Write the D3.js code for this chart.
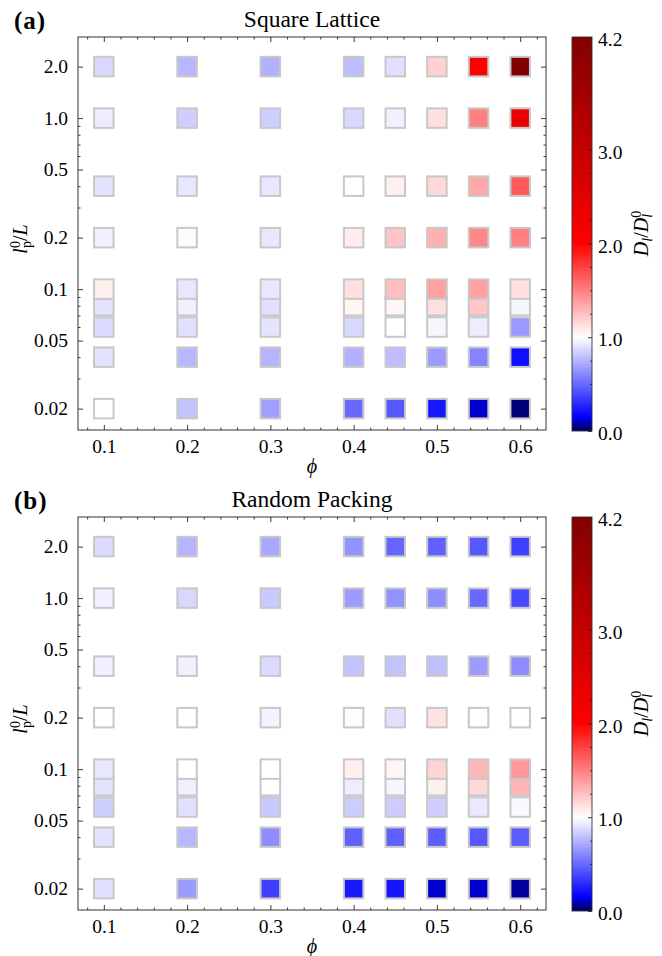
<!DOCTYPE html>
<html>
<head>
<meta charset="utf-8">
<script src="https://cdn.jsdelivr.net/npm/d3@7"></script>
<style>
  body { margin: 0; background: #fff; }
  text { font-family: "Liberation Serif", "Times New Roman", serif; fill: #000; }
</style>
</head>
<body>
<svg id="fig" width="662" height="956"></svg>
<script>
// Packing fractions (x) and persistence lengths l_p^0 / L (y)
const phiValues = [0.1, 0.2, 0.3, 0.4, 0.45, 0.5, 0.55, 0.6];
const lpValues  = [0.02, 0.04, 0.06, 0.08, 0.1, 0.2, 0.4, 1.0, 2.0];

// D_l / D_l^0 : one row per lpValues entry, one column per phiValues entry
const squareLattice = [
  [1.00, 0.80, 0.68, 0.50, 0.44, 0.23, 0.107, 0.038],
  [0.91, 0.76, 0.75, 0.74, 0.78, 0.67, 0.59, 0.20],
  [0.88, 0.90, 0.91, 0.87, 1.00, 0.97, 0.94, 0.66],
  [0.91, 0.95, 0.90, 1.04, 1.04, 1.12, 1.22, 0.97],
  [1.06, 0.92, 0.92, 1.12, 1.25, 1.37, 1.37, 1.12],
  [0.95, 0.99, 0.92, 1.07, 1.23, 1.31, 1.47, 1.50],
  [0.91, 0.92, 0.92, 1.00, 1.06, 1.15, 1.34, 1.65],
  [0.94, 0.84, 0.84, 0.87, 0.95, 1.12, 1.50, 2.36],
  [0.87, 0.76, 0.74, 0.78, 0.90, 1.18, 2.00, 4.20]
];
const randomPacking = [
  [0.90, 0.67, 0.36, 0.23, 0.22, 0.107, 0.107, 0.067],
  [0.91, 0.76, 0.62, 0.47, 0.47, 0.46, 0.44, 0.46],
  [0.84, 0.90, 0.82, 0.83, 0.83, 0.84, 0.93, 0.98],
  [0.91, 0.95, 1.00, 0.94, 0.97, 1.06, 1.15, 1.29],
  [0.92, 1.00, 1.00, 1.06, 1.04, 1.17, 1.28, 1.40],
  [1.00, 1.00, 0.96, 1.01, 0.90, 1.11, 1.00, 1.00],
  [0.95, 0.95, 0.88, 0.80, 0.80, 0.79, 0.67, 0.62],
  [0.95, 0.87, 0.82, 0.67, 0.64, 0.62, 0.50, 0.39],
  [0.88, 0.75, 0.71, 0.64, 0.49, 0.47, 0.44, 0.36]
];

const panelTitles = ["Square Lattice", "Random Packing"];
const panelTags   = ["(a)", "(b)"];

const xTicks      = [0.1, 0.2, 0.3, 0.4, 0.5, 0.6];
const xTickLabels = ["0.1", "0.2", "0.3", "0.4", "0.5", "0.6"];
const xMinorTicks = [0.08, 0.12, 0.14, 0.16, 0.18, 0.22, 0.24, 0.26, 0.28, 0.32, 0.34, 0.36, 0.38,
                     0.42, 0.44, 0.46, 0.48, 0.52, 0.54, 0.56, 0.58, 0.62];
const yTicks      = [0.02, 0.05, 0.1, 0.2, 0.5, 1.0, 2.0];
const yTickLabels = ["0.02", "0.05", "0.1", "0.2", "0.5", "1.0", "2.0"];
const yMinorTicks = [0.03, 0.04, 0.06, 0.07, 0.08, 0.09, 0.3, 0.4, 0.6, 0.7, 0.8, 0.9];

const cbarTicks      = [0, 1, 2, 3, 4.2];
const cbarTickLabels = ["0.0", "1.0", "2.0", "3.0", "4.2"];
const cbarMinorTicks = [0.25, 0.5, 0.75, 1.25, 1.5, 1.75, 2.25, 2.5, 2.75, 3.25, 3.5, 3.75, 4.0];

// diverging colormap: navy -> blue -> white (at 1) -> red -> dark red
const cmapStops  = [0, 0.15, 1, 2, 4.2];
const cmapColors = ["#00004d", "#0000ff", "#ffffff", "#ff0000", "#800000"];

const color = d3.scaleLinear().domain(cmapStops).range(cmapColors)
  .interpolate(d3.interpolateRgb).clamp(true);

const svg = d3.select("#fig");
const defs = svg.append("defs");
const grad = defs.append("linearGradient").attr("id", "cmap")
  .attr("x1", 0).attr("y1", 1).attr("x2", 0).attr("y2", 0);
cmapStops.forEach((s, i) => {
  grad.append("stop").attr("offset", s / 4.2).attr("stop-color", cmapColors[i]);
});

const M = { left: 78, right: 546, top: 37, bottom: 430 };
const panelOffset = 480;
const x = d3.scaleLinear().domain([0.069, 0.631]).range([M.left, M.right]);
const tickColor = "#222";
const tickFont = "19.5px";

function styleAxis(g) {
  g.select(".domain").remove();
  g.selectAll(".tick line").attr("stroke", tickColor).attr("stroke-width", 0.9);
  g.selectAll("text").style("font-size", tickFont).style("font-family", "Liberation Serif, serif");
}

function drawPanel(p, data) {
  const oy = p * panelOffset;
  const g = svg.append("g").attr("transform", `translate(0,${oy})`);
  const y = d3.scaleLog().domain([0.015, 2.98]).range([M.bottom, M.top]);

  // squares
  lpValues.forEach((lp, i) => {
    phiValues.forEach((phi, j) => {
      const s = 19.5;
      g.append("rect")
        .attr("x", x(phi) - s / 2).attr("y", y(lp) - s / 2)
        .attr("width", s).attr("height", s)
        .attr("fill", color(data[i][j]))
        .attr("stroke", "#c8c8c8").attr("stroke-width", 2);
    });
  });

  // axes (ticks point inward on all four sides)
  const H = M.bottom, T = M.top;
  g.append("g").attr("transform", `translate(0,${H})`)
    .call(d3.axisBottom(x).tickValues(xTicks).tickFormat((d, i) => xTickLabels[i])
      .tickSizeInner(-5).tickSizeOuter(0).tickPadding(9)).call(styleAxis);
  g.append("g").attr("transform", `translate(0,${H})`)
    .call(d3.axisBottom(x).tickValues(xMinorTicks).tickFormat("")
      .tickSizeInner(-2.5).tickSizeOuter(0)).call(styleAxis);
  g.append("g").attr("transform", `translate(0,${T})`)
    .call(d3.axisTop(x).tickValues(xTicks).tickFormat("")
      .tickSizeInner(-5).tickSizeOuter(0)).call(styleAxis);
  g.append("g").attr("transform", `translate(0,${T})`)
    .call(d3.axisTop(x).tickValues(xMinorTicks).tickFormat("")
      .tickSizeInner(-2.5).tickSizeOuter(0)).call(styleAxis);

  g.append("g").attr("transform", `translate(${M.left},0)`)
    .call(d3.axisLeft(y).tickValues(yTicks).tickFormat((d, i) => yTickLabels[i])
      .tickSizeInner(-5).tickSizeOuter(0).tickPadding(10)).call(styleAxis);
  g.append("g").attr("transform", `translate(${M.left},0)`)
    .call(d3.axisLeft(y).tickValues(yMinorTicks).tickFormat("")
      .tickSizeInner(-2.5).tickSizeOuter(0)).call(styleAxis);
  g.append("g").attr("transform", `translate(${M.right},0)`)
    .call(d3.axisRight(y).tickValues(yTicks).tickFormat("")
      .tickSizeInner(-5).tickSizeOuter(0)).call(styleAxis);
  g.append("g").attr("transform", `translate(${M.right},0)`)
    .call(d3.axisRight(y).tickValues(yMinorTicks).tickFormat("")
      .tickSizeInner(-2.5).tickSizeOuter(0)).call(styleAxis);

  g.append("rect").attr("x", M.left).attr("y", M.top)
    .attr("width", M.right - M.left).attr("height", M.bottom - M.top)
    .attr("fill", "none").attr("stroke", "#333").attr("stroke-width", 1);

  // title and panel tag
  g.append("text").attr("x", (M.left + M.right) / 2).attr("y", 27)
    .attr("text-anchor", "middle").style("font-size", "23.5px").text(panelTitles[p]);
  g.append("text").attr("x", 14).attr("y", 29)
    .style("font-size", "25px").style("font-weight", "bold").style("letter-spacing", "1px")
    .text(panelTags[p]);

  // x label
  g.append("text").attr("x", (M.left + M.right) / 2).attr("y", 473)
    .attr("text-anchor", "middle").style("font-size", "20px").style("font-style", "italic")
    .text("\u03d5");

  // y label: l_p^0 / L
  const yl = g.append("text").attr("transform", `translate(27,239) rotate(-90)`)
    .attr("text-anchor", "middle").style("font-size", "20px");
  yl.append("tspan").style("font-style", "italic").text("l");
  yl.append("tspan").attr("dy", -7).style("font-size", "14px").text("0");
  yl.append("tspan").attr("dx", -7).attr("dy", 11).style("font-size", "14px").text("p");
  yl.append("tspan").attr("dy", -4).text("/");
  yl.append("tspan").style("font-style", "italic").text("L");

  // colorbar
  const cb = d3.scaleLinear().domain([0, 4.2]).range([431, 37]);
  const cx0 = 572, cw = 20;
  g.append("rect").attr("x", cx0).attr("y", cb(4.2)).attr("width", cw)
    .attr("height", cb(0) - cb(4.2)).attr("fill", "url(#cmap)");
  const cg = g.append("g").attr("transform", `translate(${cx0 + cw},0)`);
  cg.call(d3.axisRight(cb).tickValues(cbarTicks).tickFormat((d, i) => cbarTickLabels[i])
    .tickSizeInner(-4).tickSizeOuter(0).tickPadding(6)).call(styleAxis);
  cg.selectAll("text").attr("dy", "0.45em");
  g.append("g").attr("transform", `translate(${cx0 + cw},0)`)
    .call(d3.axisRight(cb).tickValues(cbarMinorTicks).tickFormat("")
      .tickSizeInner(-2).tickSizeOuter(0)).call(styleAxis);
  g.append("rect").attr("x", cx0).attr("y", cb(4.2)).attr("width", cw)
    .attr("height", cb(0) - cb(4.2)).attr("fill", "none")
    .attr("stroke", "#333").attr("stroke-width", 0.9);

  // colorbar label: D_l / D_l^0
  const cl = g.append("text").attr("transform", `translate(648,${(M.top + M.bottom) / 2}) rotate(-90)`)
    .attr("text-anchor", "middle").style("font-size", "20px").style("font-style", "italic");
  cl.append("tspan").text("D");
  cl.append("tspan").attr("dy", 4).style("font-size", "14px").text("l");
  cl.append("tspan").attr("dy", -4).style("font-style", "normal").text("/");
  cl.append("tspan").text("D");
  cl.append("tspan").attr("dy", -7).style("font-size", "14px").style("font-style", "normal").text("0");
  cl.append("tspan").attr("dx", -7).attr("dy", 11).style("font-size", "14px").text("l");
}

drawPanel(0, squareLattice);
drawPanel(1, randomPacking);
</script>
</body>
</html>
